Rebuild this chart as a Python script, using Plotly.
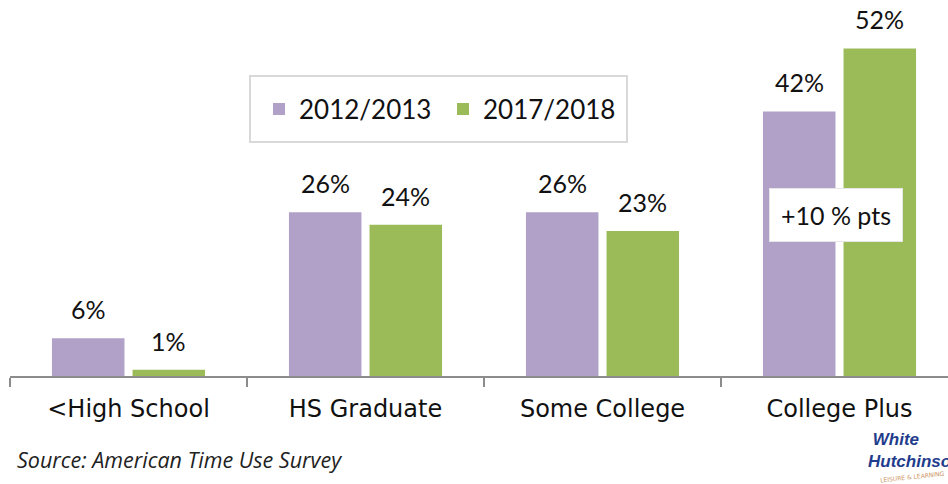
import plotly.graph_objects as go

# Education level categories and share values (%) for each survey period
categories = ["<High School", "HS Graduate", "Some College", "College Plus"]
period_names = ["2012/2013", "2017/2018"]
share_2012_2013 = [6, 26, 26, 42]
share_2017_2018 = [1, 24, 23, 52]

purple = "#b1a0c7"
green = "#9bbb59"
bargap = 0.32
bargroupgap = 0.1

fig = go.Figure()
fig.add_trace(go.Bar(name=period_names[0], x=categories, y=share_2012_2013,
                     marker=dict(color=purple, line=dict(width=0))))
fig.add_trace(go.Bar(name=period_names[1], x=categories, y=share_2017_2018,
                     marker=dict(color=green, line=dict(width=0))))

# Value labels above each bar, positioned at the bar slot centres
slot_offset = (1 - bargap) / 4
label_font = dict(family="Lato", size=25, color="#111111")
for series, shift in ((share_2012_2013, -slot_offset), (share_2017_2018, slot_offset)):
    for i, v in enumerate(series):
        fig.add_annotation(x=i + shift, y=v, text=f"{v}%", showarrow=False,
                           yanchor="bottom", yshift=12, font=label_font)

# Change callout for the last category
diff = share_2017_2018[3] - share_2012_2013[3]
fig.add_annotation(x=2.985, y=25.6, text=f"+{diff} % pts", showarrow=False,
                   font=dict(family="Lato", size=25, color="#111111"),
                   bgcolor="white", borderpad=11, bordercolor="#e6e6e6", borderwidth=1)

# Source note
fig.add_annotation(xref="paper", yref="paper", x=0.005, y=-0.223, xanchor="left",
                   yanchor="middle", showarrow=False,
                   text="<i>Source: American Time Use Survey</i>",
                   font=dict(family="Open Sans", size=21.5, color="#222222"))

# Company mark in the lower right corner
fig.add_annotation(xref="paper", yref="paper", x=0.913, y=-0.197, xanchor="left",
                   yanchor="middle", showarrow=False, align="left",
                   text="<b><i>&nbsp;White<br>Hutchinson</i></b>",
                   font=dict(family="Liberation Sans", size=17, color="#1f3d8c"))
fig.add_annotation(xref="paper", yref="paper", x=0.925, y=-0.268, xanchor="left",
                   yanchor="middle", showarrow=False, text="LEISURE & LEARNING",
                   textangle=-6, font=dict(family="DejaVu Sans", size=6, color="#c9925a"))

# Frame around the legend
fig.add_shape(type="rect", xref="paper", yref="paper",
              x0=(250 - 10) / 938, x1=(627 - 10) / 938,
              y0=1 - 142 / 376, y1=1 - 76 / 376,
              line=dict(color="#d9d9d9", width=2), fillcolor="rgba(0,0,0,0)", layer="above")

fig.update_layout(
    width=948, height=484,
    margin=dict(l=10, r=0, t=0, b=108),
    paper_bgcolor="white", plot_bgcolor="white",
    barmode="group", bargap=bargap, bargroupgap=bargroupgap,
    showlegend=True,
    legend=dict(orientation="h", x=(259 - 10) / 938, y=1 - 109 / 376,
                xanchor="left", yanchor="middle",
                borderwidth=0, bgcolor="rgba(0,0,0,0)",
                font=dict(family="Lato", size=26, color="#111111"),
                itemwidth=30, entrywidth=139, tracegroupgap=0),
    xaxis=dict(range=[-0.5, -0.5 + 938 / 237], showgrid=False, zeroline=False,
               showline=True, linecolor="#8c8c8c", linewidth=1.5,
               ticks="outside", tickson="boundaries", ticklen=9, tickcolor="#8c8c8c",
               tickwidth=1.5, ticklabelstandoff=10,
               tickfont=dict(family="DejaVu Sans", size=24, color="#111111")),
    yaxis=dict(range=[0, 376 / 6.3], visible=False, fixedrange=True),
)

fig.write_html("out.html")
